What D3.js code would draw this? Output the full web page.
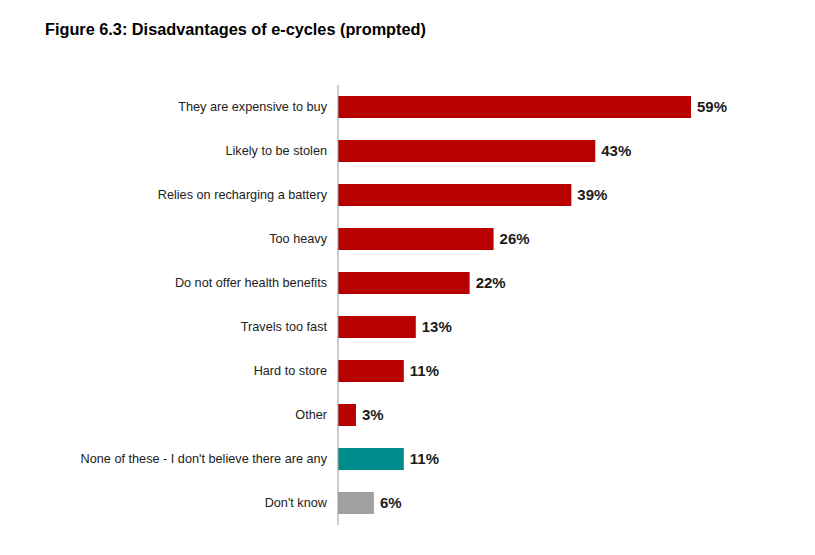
<!DOCTYPE html>
<html>
<head>
<meta charset="utf-8">
<title>Disadvantages of e-cycles</title>
<style>
  body { margin: 0; background: #fff; }
  svg { font-family: "Liberation Sans", Arial, sans-serif; }
</style>
</head>
<body>
<script src="https://d3js.org/d3.v7.min.js"></script>
<script>
var categories = [
  "They are expensive to buy",
  "Likely to be stolen",
  "Relies on recharging a battery",
  "Too heavy",
  "Do not offer health benefits",
  "Travels too fast",
  "Hard to store",
  "Other",
  "None of these - I don't believe there are any",
  "Don't know"
];
var values = [59, 43, 39, 26, 22, 13, 11, 3, 11, 6];
var groups = ["dis", "dis", "dis", "dis", "dis", "dis", "dis", "dis", "none", "dk"];
var colours = { dis: "#B80000", none: "#008C8A", dk: "#A0A0A0" };

var width = 815, height = 555;
var axisX = 338, plotTop = 85, plotBottom = 525;

var svg = d3.select("body").append("svg")
  .attr("width", width)
  .attr("height", height);

svg.append("text")
  .attr("x", 45)
  .attr("y", 35)
  .attr("font-size", 16.3)
  .attr("font-weight", "bold")
  .attr("fill", "#000")
  .text("Figure 6.3: Disadvantages of e-cycles (prompted)");

var x = d3.scaleLinear().domain([0, 59]).range([axisX, 691]);
var y = d3.scaleBand().domain(categories).range([plotTop, plotBottom])
  .paddingInner(0.5).paddingOuter(0.25);

svg.selectAll("rect.bar")
  .data(values)
  .enter()
  .append("rect")
  .attr("class", "bar")
  .attr("x", x(0))
  .attr("y", function(d, i) { return y(categories[i]); })
  .attr("width", function(d) { return x(d) - x(0); })
  .attr("height", y.bandwidth())
  .attr("fill", function(d, i) { return colours[groups[i]]; });

svg.selectAll("text.val")
  .data(values)
  .enter()
  .append("text")
  .attr("class", "val")
  .attr("x", function(d) { return x(d) + 6; })
  .attr("y", function(d, i) { return y(categories[i]) + y.bandwidth() / 2; })
  .attr("dy", "0.36em")
  .attr("font-size", 15)
  .attr("font-weight", "bold")
  .attr("fill", "#1a1a1a")
  .text(function(d) { return d + "%"; });

var yAxis = d3.axisLeft(y).tickSize(0).tickPadding(11);
var g = svg.append("g")
  .attr("transform", "translate(" + axisX + ",0)")
  .call(yAxis);
g.select(".domain").attr("stroke", "#999").attr("d", "M0," + plotTop + "V" + plotBottom);
g.selectAll("text")
  .attr("font-size", 12.7)
  .attr("font-family", "\"Liberation Sans\", Arial, sans-serif")
  .attr("fill", "#222");
</script>
</body>
</html>
